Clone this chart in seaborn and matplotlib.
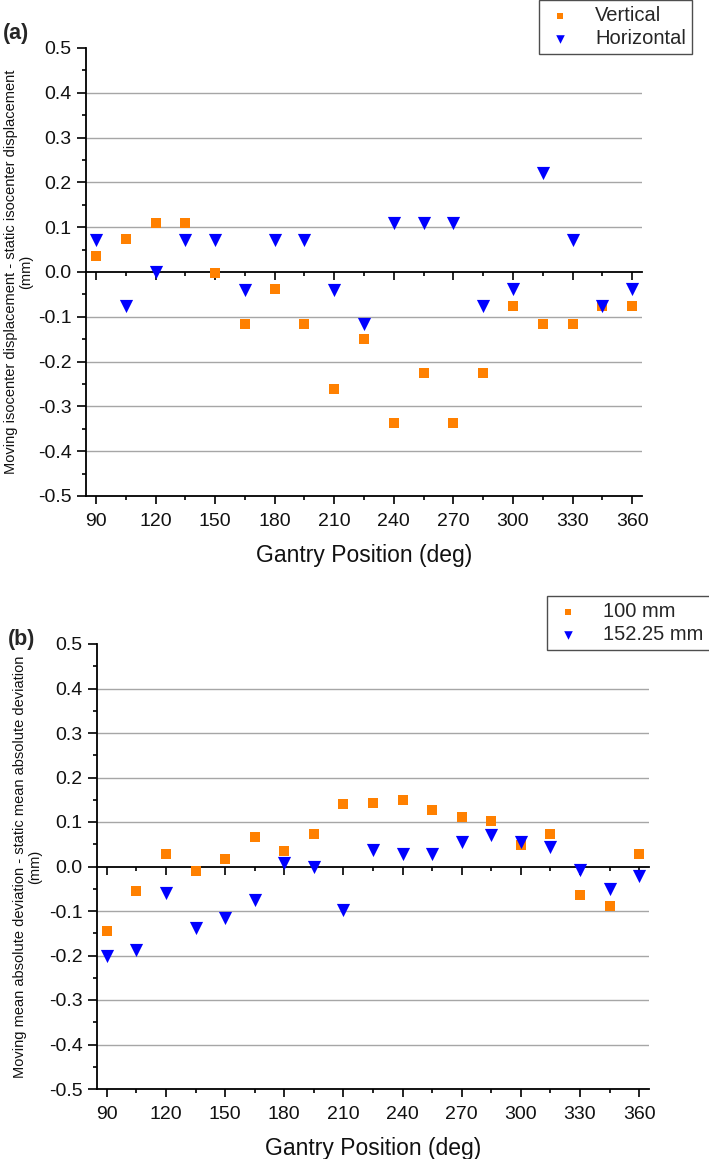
import matplotlib.pyplot as plt
import seaborn as sns
from matplotlib.ticker import MultipleLocator

# gantry angles (deg)
gantry = [90, 105, 120, 135, 150, 165, 180, 195, 210, 225,
          240, 255, 270, 285, 300, 315, 330, 345, 360]

# (a) moving - static isocenter displacement (mm)
vertical = [0.036, 0.073, 0.110, 0.110, -0.002, -0.115, -0.039, -0.115, -0.262, -0.150,
            -0.336, -0.225, -0.336, -0.225, -0.075, -0.115, -0.115, -0.077, -0.075]
horizontal = [0.071, -0.077, 0.0, 0.071, 0.071, -0.040, 0.071, 0.071, -0.040, -0.115,
              0.109, 0.109, 0.109, -0.077, -0.039, 0.222, 0.071, -0.077, -0.039]

# (b) moving - static mean absolute deviation (mm)
mad_100 = [-0.146, -0.056, 0.027, -0.009, 0.016, 0.067, 0.034, 0.073, 0.141, 0.142,
           0.150, 0.126, 0.111, 0.102, 0.049, 0.073, -0.064, -0.089, 0.028]
mad_152 = [-0.200, -0.187, -0.060, -0.139, -0.116, -0.075, 0.007, -0.001, -0.097, 0.036,
           0.027, 0.027, 0.056, 0.070, 0.054, 0.043, -0.007, -0.050, -0.022]

ORANGE = '#FF8000'
BLUE = '#0000FF'

sns.set_theme(style='white')
plt.rcParams['font.family'] = ['Liberation Sans', 'DejaVu Sans']
plt.rcParams['axes.unicode_minus'] = False

fig = plt.figure(figsize=(7.09, 11.59), dpi=100)
W, H = 709, 1159


def make_axes(left, top, right, bottom):
    return fig.add_axes([left / W, 1 - bottom / H, (right - left) / W, (bottom - top) / H])


def style_axes(ax, ylabel):
    ax.set_xlim(85, 365)
    ax.set_ylim(-0.5, 0.5)
    ax.set_xticks([90, 120, 150, 180, 210, 240, 270, 300, 330, 360])
    ax.xaxis.set_minor_locator(MultipleLocator(15))
    ax.set_yticks([-0.5, -0.4, -0.3, -0.2, -0.1, 0.0, 0.1, 0.2, 0.3, 0.4, 0.5])
    ax.yaxis.set_minor_locator(MultipleLocator(0.05))
    ax.yaxis.set_major_formatter(plt.FormatStrFormatter('%.1f'))
    for g in [-0.4, -0.3, -0.2, -0.1, 0.1, 0.2, 0.3, 0.4]:
        ax.axhline(g, color='#a6a6a6', lw=1.0, zorder=0)
    for s in ['top', 'right']:
        ax.spines[s].set_visible(False)
    for s in ['left', 'bottom']:
        ax.spines[s].set_color('black')
        ax.spines[s].set_linewidth(1.3)
    ax.tick_params(which='both', direction='out', color='black', width=1.2,
                   bottom=True, left=True, labelsize=14, labelcolor='#111111')
    ax.tick_params(axis='x', which='major', length=5.5, pad=6.5)
    ax.tick_params(axis='x', which='minor', length=2.8)
    ax.tick_params(axis='y', which='major', length=6.5, pad=4)
    ax.tick_params(axis='y', which='minor', length=3.2)
    ax.set_xlabel('Gantry Position (deg)', fontsize=16.5, labelpad=10, color='#111111')
    ax.set_ylabel(ylabel, fontsize=10.5, color='#111111', linespacing=1.1)
    # axis line through zero with downward ticks
    zero = ax.inset_axes([0, 0.5, 1, 0.5])
    zero.set_zorder(0.5)
    zero.patch.set_visible(False)
    zero.set_xlim(ax.get_xlim())
    zero.set_xticks(ax.get_xticks())
    zero.xaxis.set_minor_locator(MultipleLocator(15))
    zero.set_yticks([])
    for s in ['top', 'right', 'left']:
        zero.spines[s].set_visible(False)
    zero.spines['bottom'].set_color('black')
    zero.spines['bottom'].set_linewidth(1.3)
    zero.tick_params(which='both', direction='out', color='black', width=1.2,
                     bottom=True, labelbottom=False)
    zero.tick_params(which='major', length=5.5)
    zero.tick_params(which='minor', length=2.8)


def draw_panel(ax, series, labels, ylabel, legend_anchor):
    styles = [('s', ORANGE, 58), ('v', BLUE, 90)]
    for vals, lab, (mk, col, sz) in zip(series, labels, styles):
        sns.scatterplot(x=gantry, y=vals, ax=ax, marker=mk, color=col, s=sz,
                        linewidth=0, label=lab, zorder=3, clip_on=False)
    style_axes(ax, ylabel)
    leg = ax.legend(loc='upper left', bbox_to_anchor=legend_anchor,
                    bbox_transform=fig.transFigure, fontsize=14.5, frameon=True,
                    fancybox=False, edgecolor='#222222', borderpad=0.3,
                    handlelength=1.5, handletextpad=1.0, labelspacing=0.2,
                    markerscale=0.65, borderaxespad=0)
    leg.get_frame().set_linewidth(1.0)


ax1 = make_axes(86, 48, 642, 496)
draw_panel(ax1, [vertical, horizontal], ['Vertical', 'Horizontal'],
           'Moving isocenter displacement - static isocenter displacement\n(mm)',
           (539 / W, 1 - 0 / H))
ax1.yaxis.set_label_coords(-0.095, 0.5)

ax2 = make_axes(97, 644, 649, 1089)
draw_panel(ax2, [mad_100, mad_152], ['100 mm', '152.25 mm'],
           'Moving mean absolute deviation - static mean absolute deviation\n(mm)',
           (547 / W, 1 - 596 / H))
ax2.yaxis.set_label_coords(-0.1, 0.5)

fig.text(3 / W, 1 - 34 / H, '(a)', fontsize=15.5, fontweight='bold', va='center', ha='left')
fig.text(8 / W, 1 - 640 / H, '(b)', fontsize=15.5, fontweight='bold', va='center', ha='left')

fig.savefig('out.png', dpi=100)
